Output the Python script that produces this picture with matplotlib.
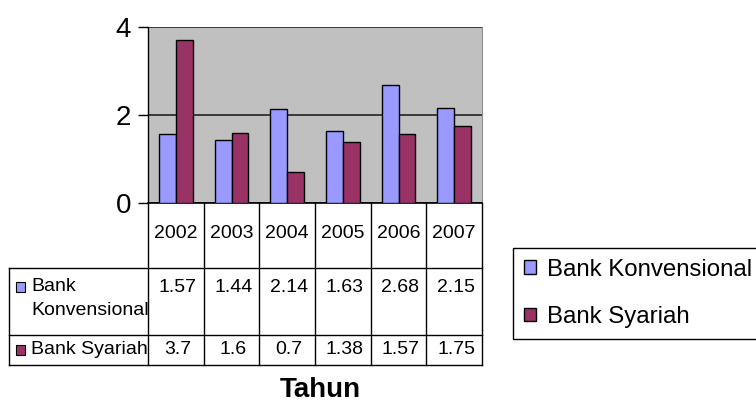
import numpy as np
import matplotlib.pyplot as plt
from matplotlib.patches import Rectangle

plt.rcParams['font.family'] = ['Liberation Sans', 'DejaVu Sans']

# data
years = ['2002', '2003', '2004', '2005', '2006', '2007']
konvensional = [1.57, 1.44, 2.14, 1.63, 2.68, 2.15]
syariah = [3.7, 1.6, 0.7, 1.38, 1.57, 1.75]
series_names = ['Bank Konvensional', 'Bank Syariah']
row_labels = ['Bank\nKonvensional', 'Bank Syariah']
colors = ['#9999FF', '#993366']

W, H = 756, 403
fig = plt.figure(figsize=(W / 100, H / 100), dpi=100)

# plot area in pixels
x0, x1, y_top, y_bot = 148, 482, 27, 203
ax = fig.add_axes([x0 / W, 1 - y_bot / H, (x1 - x0) / W, (y_bot - y_top) / H])
ax.set_facecolor('#C0C0C0')

x = np.arange(len(years))
w = 0.3
b1 = ax.bar(x - w / 2, konvensional, w, color=colors[0], edgecolor='black', linewidth=1, zorder=3)
b2 = ax.bar(x + w / 2, syariah, w, color=colors[1], edgecolor='black', linewidth=1, zorder=3)

ax.set_xlim(-0.5, len(years) - 0.5)
ax.set_ylim(0, 4)
ax.set_yticks([0, 2, 4])
ax.set_xticks([])
ax.tick_params(axis='y', labelsize=20, length=7, width=1, pad=5)
ax.yaxis.grid(True, color='#222222', linewidth=1.2)
ax.set_axisbelow(True)
ax.spines['top'].set_visible(False)
ax.spines['right'].set_color('#909090')
ax.spines['left'].set_linewidth(1)
ax.spines['bottom'].set_linewidth(1.2)

# data table drawn underneath the plot area
tab = fig.add_axes([0, 0, 1, 1])
tab.set_xlim(0, W)
tab.set_ylim(H, 0)
tab.axis('off')
tab.patch.set_alpha(0)

col_edges = np.linspace(x0, x1, len(years) + 1)
row_y = [y_bot, 268, 335, 365]
left = 9
lc = 'black'
for cx in col_edges:
    tab.plot([cx, cx], [y_bot, row_y[-1]], color=lc, lw=1)
tab.plot([left, left], [row_y[1], row_y[-1]], color=lc, lw=1)
for ry in row_y[1:]:
    tab.plot([left, x1], [ry, ry], color=lc, lw=1)

centers = (col_edges[:-1] + col_edges[1:]) / 2
for cx, yr in zip(centers, years):
    tab.text(cx, 233, yr, ha='center', va='center', fontsize=14)

rows = [konvensional, syariah]
val_y = [287, 350]
lab_y = [287, 350]
for vals, vy, ly, lab, c in zip(rows, val_y, lab_y, row_labels, colors):
    for cx, v in zip(centers, vals):
        tab.text(cx + 2, vy, f'{v:g}', ha='center', va='center', fontsize=14)
    tab.add_patch(Rectangle((16, ly - 5), 9, 10, facecolor=c, edgecolor='black', lw=0.8))
    tab.text(31, ly - 9 if '\n' in lab else ly, lab, ha='left', va='top' if '\n' in lab else 'center',
             fontsize=14, linespacing=1.55)

tab.text(320, 390, 'Tahun', ha='center', va='center', fontsize=20, fontweight='bold')

leg = fig.legend([b1, b2], series_names, loc='upper left',
                 bbox_to_anchor=(513 / W, 1 - 248 / H), fontsize=17.3,
                 frameon=True, fancybox=False, edgecolor='black', framealpha=1,
                 handlelength=0.5, handleheight=0.5, handletextpad=0.45,
                 labelspacing=1.05, borderpad=0.45, borderaxespad=0)
leg.get_frame().set_linewidth(1)

plt.savefig('out.png', dpi=100)
